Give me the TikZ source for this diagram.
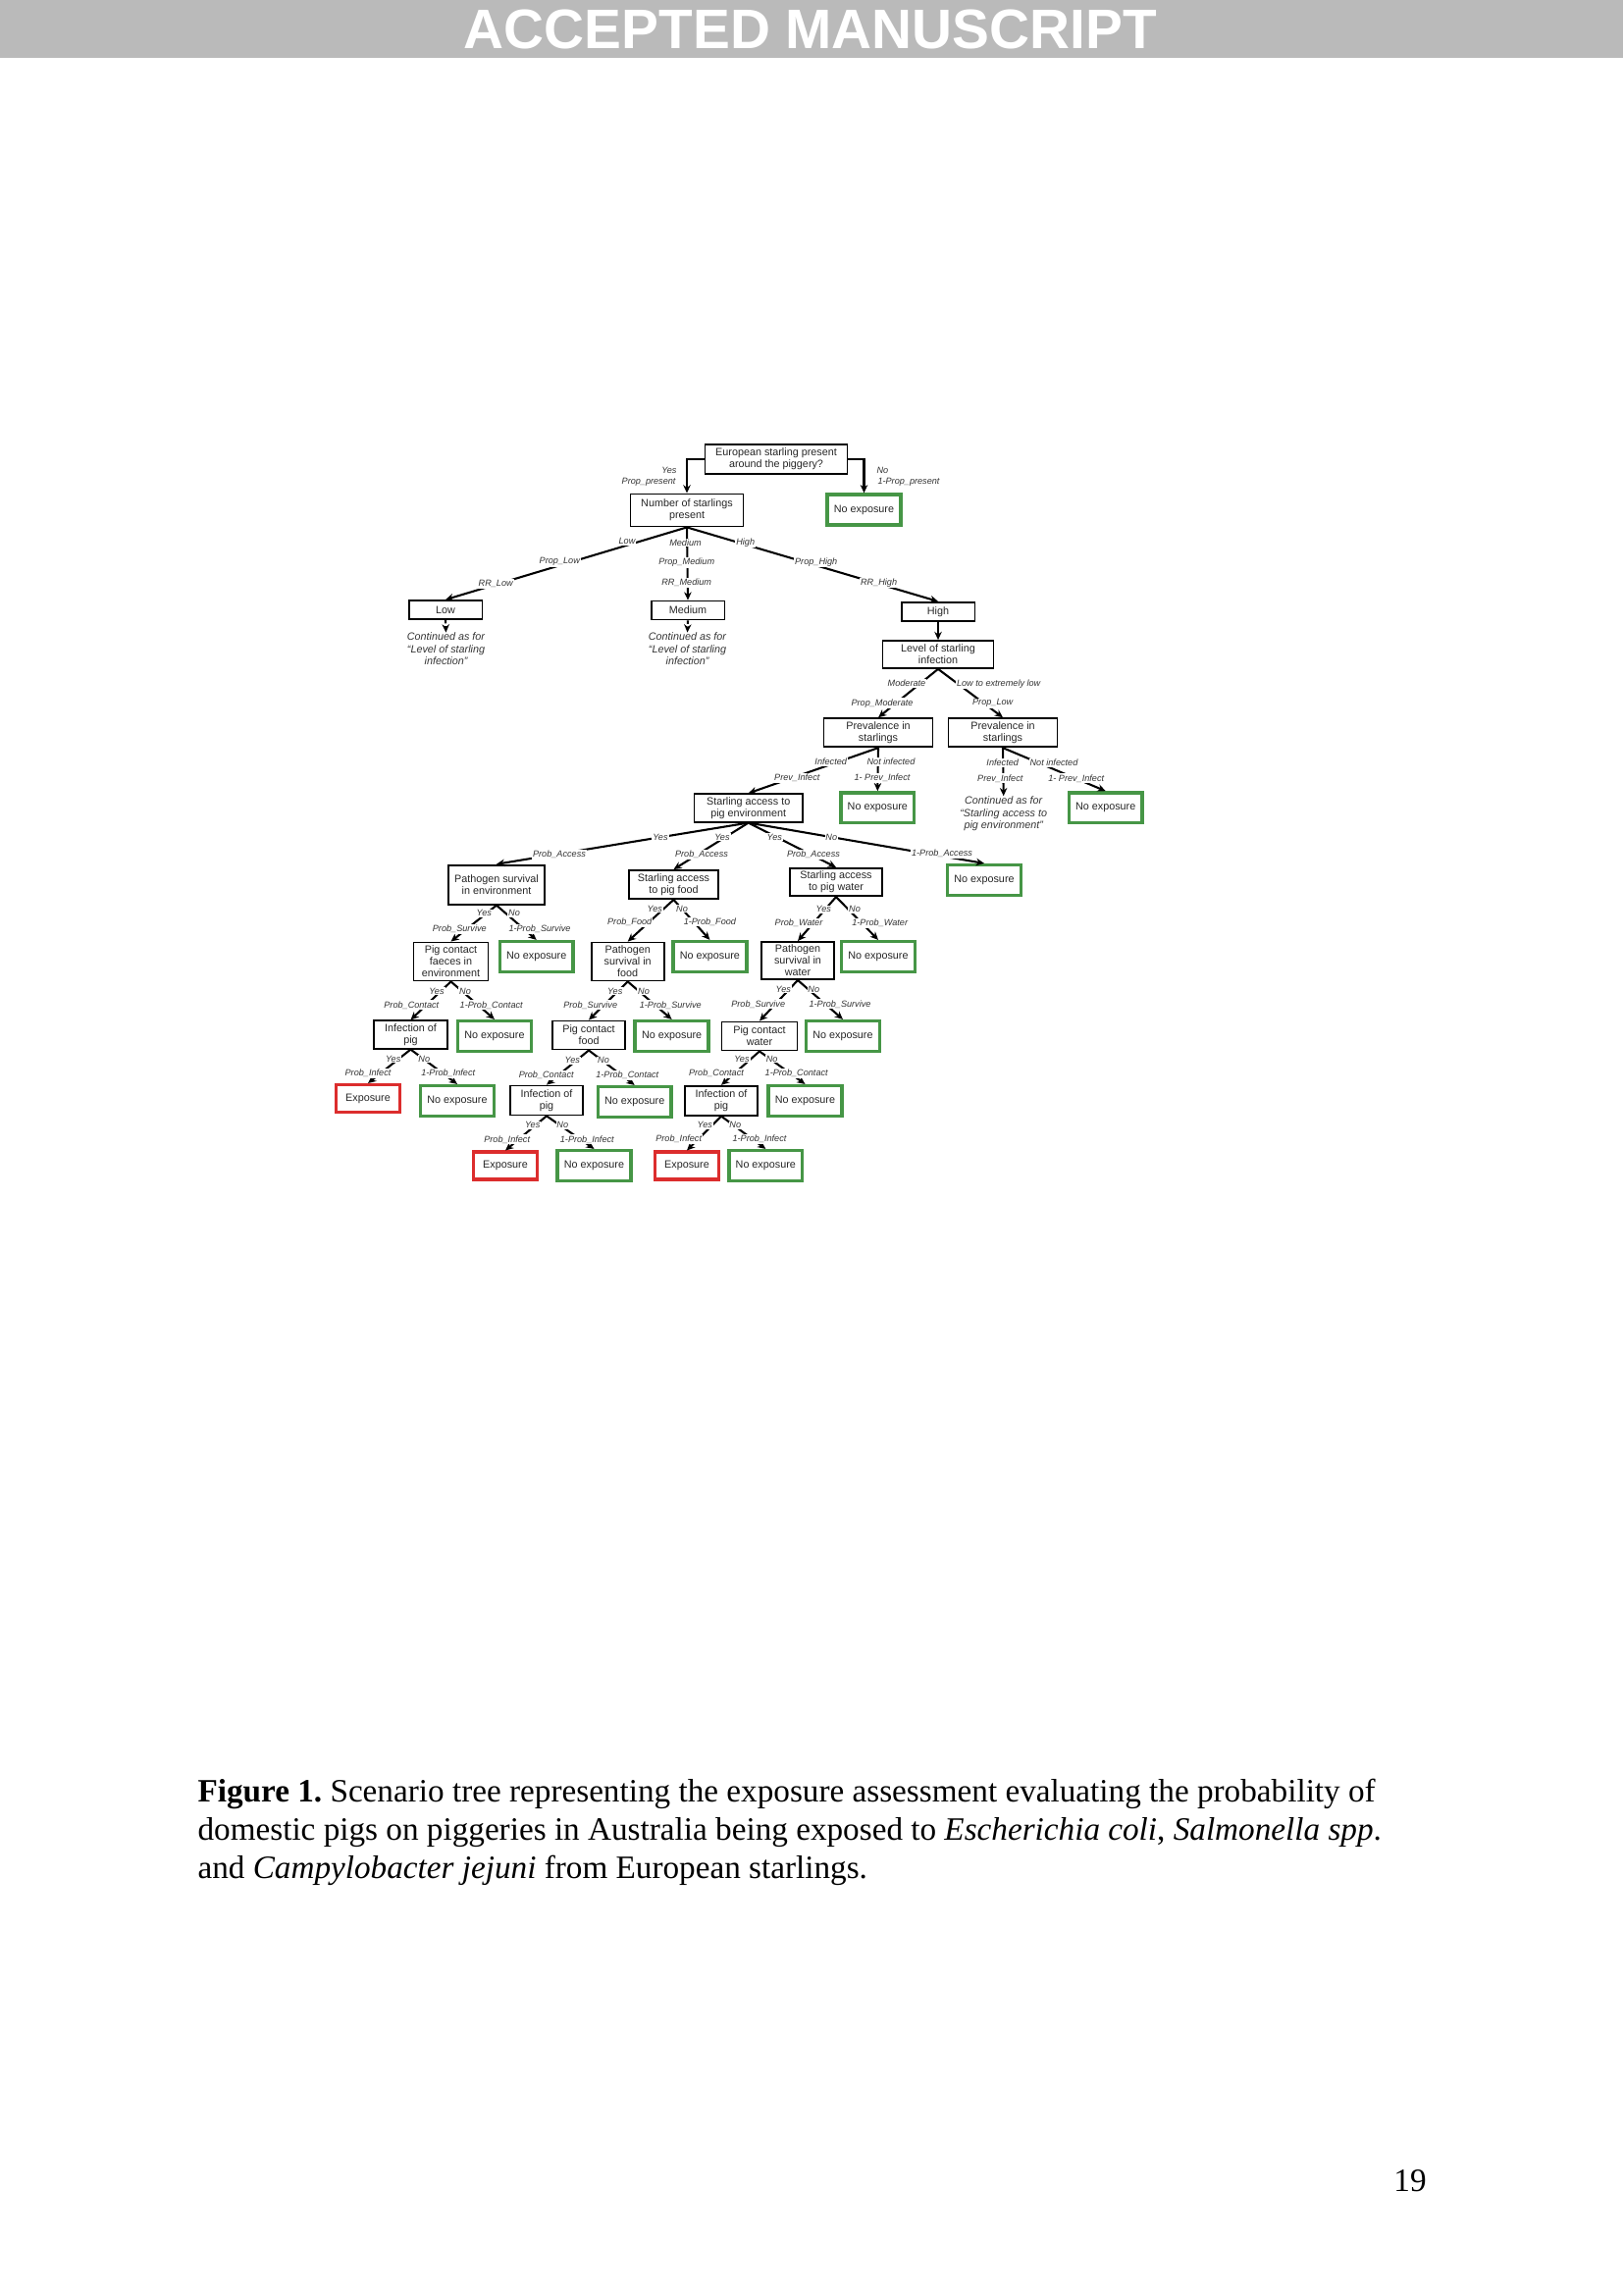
\documentclass[tikz,border=0pt]{standalone}
\usepackage{fontspec}
\setmainfont{Liberation Serif}
\newfontfamily\diagfont{Liberation Sans}
\usetikzlibrary{arrows.meta}
\definecolor{exgreen}{RGB}{70,150,70}
\definecolor{exred}{RGB}{220,45,45}
\definecolor{bandgray}{RGB}{186,186,186}
\frenchspacing

\begin{document}
\begin{tikzpicture}[x=0.127mm, y=-0.127mm,
  box/.style={draw, line width=0.65pt, inner sep=0pt, align=center, text=black!85,
    font=\diagfont\fontsize{3.9}{4.3}\selectfont},
  nobox/.style={box, draw=exgreen, line width=1.25pt, minimum width=9.5mm, minimum height=3.9mm},
  yesbox/.style={box, draw=exred, line width=1.25pt, minimum width=8.3mm, minimum height=3.5mm},
  lbl/.style={fill=white, inner sep=0.35pt, text=black!80,
    font=\diagfont\itshape\fontsize{3.3}{3.6}\selectfont},
  cont/.style={inner sep=0pt, align=center, text=black!80,
    font=\diagfont\itshape\fontsize{3.9}{4.5}\selectfont},
  arr/.style={line width=0.75pt, -{Stealth[length=1.05mm, width=0.95mm]}},
  darr/.style={arr, dash pattern=on 1.3pt off 1pt},
]
\useasboundingbox (0,0) rectangle (1654,2339);
\fill[bandgray] (0,0) rectangle (1654,59);
\node[text=white, font=\diagfont\bfseries\fontsize{20.5}{24}\selectfont] (head) at (826,29.5) {ACCEPTED MANUSCRIPT};

\node[box, minimum width=18.4mm, minimum height=3.9mm] (top) at (791,468) {European starling present\\around the piggery?};
\node[nobox] (ne0) at (880.5,519.5) {No exposure};
\node[box, minimum width=14.6mm, minimum height=4.2mm] (num) at (700,520) {Number of starlings\\present};
\node[box, minimum width=9.5mm, minimum height=2.4mm] (low) at (454,621.5) {Low};
\node[box, minimum width=9.5mm, minimum height=2.4mm] (med) at (701,622) {Medium};
\node[box, minimum width=9.5mm, minimum height=2.4mm] (high) at (956,623.3) {High};
\node[cont] (clow) at (454.5,661.5) {Continued as for\\“Level of starling\\infection”};
\node[cont] (cmed) at (700.5,661.5) {Continued as for\\“Level of starling\\infection”};
\node[box, minimum width=14.35mm, minimum height=3.55mm] (level) at (956,667) {Level of starling\\infection};
\node[box, minimum width=14.1mm, minimum height=3.7mm] (prevl) at (895,746.7) {Prevalence in\\starlings};
\node[box, minimum width=14.1mm, minimum height=3.7mm] (prevr) at (1022,746.7) {Prevalence in\\starlings};
\node[box, minimum width=14mm, minimum height=3.6mm] (env) at (762.7,823.5) {Starling access to\\pig environment};
\node[nobox] (ne1) at (894.3,823.3) {No exposure};
\node[cont] (cenv) at (1022.7,829.3) {Continued as for\\“Starling access to\\pig environment”};
\node[nobox] (ne2) at (1126.7,823.3) {No exposure};
\node[box, minimum width=12.45mm, minimum height=5.1mm] (survenv) at (506,901.7) {Pathogen survival\\in environment};
\node[box, minimum width=11.55mm, minimum height=3.7mm] (food) at (686.5,901.5) {Starling access\\to pig food};
\node[box, minimum width=11.9mm, minimum height=3.6mm] (water) at (852,899) {Starling access\\to pig water};
\node[nobox] (ne3) at (1003,897) {No exposure};
\node[box, minimum width=9.65mm, minimum height=4.95mm] (faeces) at (459.5,980) {Pig contact\\faeces in\\environment};
\node[nobox] (ne4) at (546.7,975) {No exposure};
\node[box, minimum width=9.4mm, minimum height=4.95mm] (survfood) at (639.7,980) {Pathogen\\survival in\\food};
\node[nobox] (ne5) at (723.4,975) {No exposure};
\node[box, minimum width=9.4mm, minimum height=4.85mm] (survwater) at (813,979) {Pathogen\\survival in\\water};
\node[nobox] (ne6) at (895,975) {No exposure};
\node[box, minimum width=9.5mm, minimum height=3.6mm] (infl) at (418.5,1054.5) {Infection of\\pig};
\node[nobox] (ne7) at (504,1056) {No exposure};
\node[box, minimum width=9.4mm, minimum height=3.7mm] (pcfood) at (600,1055) {Pig contact\\food};
\node[nobox] (ne8) at (684.6,1056) {No exposure};
\node[box, minimum width=9.8mm, minimum height=3.7mm] (pcwater) at (774,1056) {Pig contact\\water};
\node[nobox] (ne9) at (859,1056) {No exposure};
\node[yesbox] (exl) at (375,1119.5) {Exposure};
\node[nobox] (ne10) at (466,1122) {No exposure};
\node[box, minimum width=9.3mm, minimum height=3.8mm] (infm) at (557,1121.5) {Infection of\\pig};
\node[nobox] (ne11) at (646.7,1123) {No exposure};
\node[box, minimum width=9.3mm, minimum height=3.8mm] (infr) at (735,1121.7) {Infection of\\pig};
\node[nobox] (ne12) at (820.5,1122) {No exposure};
\node[yesbox] (exm) at (515,1188) {Exposure};
\node[nobox] (ne13) at (605.5,1188) {No exposure};
\node[yesbox] (exr) at (700,1188) {Exposure};
\node[nobox] (ne14) at (780.3,1188) {No exposure};

\draw[arr] (top.west) -| (num.north);
\draw[arr] (top.east) -| (ne0.north);
\draw[arr] (num.south) -- (low.north);
\draw[arr] (num.south) -- (med.north);
\draw[arr] (num.south) -- (high.north);
\draw[darr] (low.south) -- (clow.north);
\draw[darr] (med.south) -- (cmed.north);
\draw[arr] (high.south) -- (level.north);
\draw[arr] (level.south) -- (prevl.north);
\draw[arr] (level.south) -- (prevr.north);
\draw[arr] (prevl.south) -- (env.north);
\draw[arr] (prevl.south) -- (ne1.north);
\draw[arr] (prevr.south) -- (cenv.north);
\draw[arr] (prevr.south) -- (ne2.north);
\draw[arr] (env.south) -- (survenv.north);
\draw[arr] (env.south) -- (food.north);
\draw[arr] (env.south) -- (water.north);
\draw[arr] (env.south) -- (ne3.north);
\draw[arr] (survenv.south) -- (faeces.north);
\draw[arr] (survenv.south) -- (ne4.north);
\draw[arr] (food.south) -- (survfood.north);
\draw[arr] (food.south) -- (ne5.north);
\draw[arr] (water.south) -- (survwater.north);
\draw[arr] (water.south) -- (ne6.north);
\draw[arr] (faeces.south) -- (infl.north);
\draw[arr] (faeces.south) -- (ne7.north);
\draw[arr] (survfood.south) -- (pcfood.north);
\draw[arr] (survfood.south) -- (ne8.north);
\draw[arr] (survwater.south) -- (pcwater.north);
\draw[arr] (survwater.south) -- (ne9.north);
\draw[arr] (infl.south) -- (exl.north);
\draw[arr] (infl.south) -- (ne10.north);
\draw[arr] (pcfood.south) -- (infm.north);
\draw[arr] (pcfood.south) -- (ne11.north);
\draw[arr] (pcwater.south) -- (infr.north);
\draw[arr] (pcwater.south) -- (ne12.north);
\draw[arr] (infm.south) -- (exm.north);
\draw[arr] (infm.south) -- (ne13.north);
\draw[arr] (infr.south) -- (exr.north);
\draw[arr] (infr.south) -- (ne14.north);

\node[lbl, anchor=east] (yes0) at (691,479.5) {Yes};
\node[lbl, anchor=east] (pr0) at (690,491.7) {Prop\_present};
\node[lbl, anchor=west] (no0) at (892,479.5) {No};
\node[lbl, anchor=west] (npr0) at (893,491.7) {1-Prop\_present};
\node[lbl] (sLow) at (639,551.7) {Low};
\node[lbl] (sMed) at (698.5,553) {Medium};
\node[lbl] (sHigh) at (759.7,552.7) {High};
\node[lbl] (pLow) at (570.3,572.7) {Prop\_Low};
\node[lbl] (pMed) at (699.7,573.3) {Prop\_Medium};
\node[lbl] (pHigh) at (831.7,572.7) {Prop\_High};
\node[lbl] (rLow) at (505.2,595) {RR\_Low};
\node[lbl] (rMed) at (699.7,594) {RR\_Medium};
\node[lbl] (rHigh) at (895.6,594) {RR\_High};
\node[lbl] (iMod) at (924,696.7) {Moderate};
\node[lbl] (iLow) at (1017.7,696.7) {Low to extremely low};
\node[lbl] (pMod) at (899,716.7) {Prop\_Moderate};
\node[lbl] (pLowI) at (1011.7,716.7) {Prop\_Low};
\node[lbl] (infA) at (846.7,776.7) {Infected};
\node[lbl] (ninfA) at (908,776.7) {Not infected};
\node[lbl] (pvA) at (812.3,792.7) {Prev\_Infect};
\node[lbl] (npvA) at (899,792.7) {1- Prev\_Infect};
\node[lbl] (infB) at (1021.7,777.3) {Infected};
\node[lbl] (ninfB) at (1074,777.3) {Not infected};
\node[lbl] (pvB) at (1019.3,793.3) {Prev\_Infect};
\node[lbl] (npvB) at (1096.7,793.3) {1- Prev\_Infect};
\node[lbl] (yesE1) at (673,853.3) {Yes};
\node[lbl] (yesE2) at (736,853.3) {Yes};
\node[lbl] (yesE3) at (789.3,853.3) {Yes};
\node[lbl] (noE) at (847.3,853.3) {No};
\node[lbl] (paE1) at (570,870.7) {Prob\_Access};
\node[lbl] (paE2) at (715,871) {Prob\_Access};
\node[lbl] (paE3) at (829,871) {Prob\_Access};
\node[lbl] (npaE) at (960,870) {1-Prob\_Access};
\node[lbl] (yesS) at (493.3,930.7) {Yes};
\node[lbl] (noS) at (524,930.7) {No};
\node[lbl] (psS) at (468.3,946.7) {Prob\_Survive};
\node[lbl] (npsS) at (550,946.7) {1-Prob\_Survive};
\node[lbl] (yesF) at (667.3,926) {Yes};
\node[lbl] (noF) at (695,926) {No};
\node[lbl] (pfF) at (641.7,940) {Prob\_Food};
\node[lbl] (npfF) at (723.4,939.6) {1-Prob\_Food};
\node[lbl] (yesW) at (839.3,926.7) {Yes};
\node[lbl] (noW) at (871,926.7) {No};
\node[lbl] (pwW) at (814,941) {Prob\_Water};
\node[lbl] (npwW) at (896.7,941) {1-Prob\_Water};
\node[lbl] (yesC1) at (445,1010) {Yes};
\node[lbl] (noC1) at (474,1010) {No};
\node[lbl] (pcC1) at (419.3,1024.3) {Prob\_Contact};
\node[lbl] (npcC1) at (500.7,1024.3) {1-Prob\_Contact};
\node[lbl] (yesS2) at (626.7,1010) {Yes};
\node[lbl] (noS2) at (656,1010) {No};
\node[lbl] (psS2) at (601.7,1024.3) {Prob\_Survive};
\node[lbl] (npsS2) at (683.3,1024.3) {1-Prob\_Survive};
\node[lbl] (yesS3) at (798.3,1008.3) {Yes};
\node[lbl] (noS3) at (829.3,1008.3) {No};
\node[lbl] (psS3) at (772.7,1023.3) {Prob\_Survive};
\node[lbl] (npsS3) at (856,1023.3) {1-Prob\_Survive};
\node[lbl] (yesI1) at (400.7,1079.3) {Yes};
\node[lbl] (noI1) at (432.3,1079.3) {No};
\node[lbl] (piI1) at (375,1094) {Prob\_Infect};
\node[lbl] (npiI1) at (456.7,1094) {1-Prob\_Infect};
\node[lbl] (yesC2) at (583.3,1080.7) {Yes};
\node[lbl] (noC2) at (615,1080.7) {No};
\node[lbl] (pcC2) at (556.7,1095.7) {Prob\_Contact};
\node[lbl] (npcC2) at (639.3,1095.7) {1-Prob\_Contact};
\node[lbl] (yesC3) at (756,1079.3) {Yes};
\node[lbl] (noC3) at (786.7,1079.3) {No};
\node[lbl] (pcC3) at (730,1094) {Prob\_Contact};
\node[lbl] (npcC3) at (811.7,1094) {1-Prob\_Contact};
\node[lbl] (yesI2) at (542.7,1146.7) {Yes};
\node[lbl] (noI2) at (573.3,1146.7) {No};
\node[lbl] (piI2) at (516.7,1161.3) {Prob\_Infect};
\node[lbl] (npiI2) at (598.3,1161.3) {1-Prob\_Infect};
\node[lbl] (yesI3) at (718.3,1146.7) {Yes};
\node[lbl] (noI3) at (749.3,1146.7) {No};
\node[lbl] (piI3) at (691.7,1161) {Prob\_Infect};
\node[lbl] (npiI3) at (774,1161) {1-Prob\_Infect};

\node[anchor=base west, align=left, inner sep=0pt, font=\fontsize{12}{14.05}\selectfont] (cap) at (201,1914)
  {\textbf{Figure 1.} Scenario tree representing the exposure assessment evaluating the probability of\\
   domestic pigs on piggeries in Australia being exposed to \textit{Escherichia coli}, \textit{Salmonella spp}.\\
   and \textit{Campylobacter jejuni} from European starlings.};
\node[anchor=base, inner sep=0pt, font=\fontsize{12}{14}\selectfont] (pageno) at (1437,2233) {19};
\end{tikzpicture}
\end{document}
